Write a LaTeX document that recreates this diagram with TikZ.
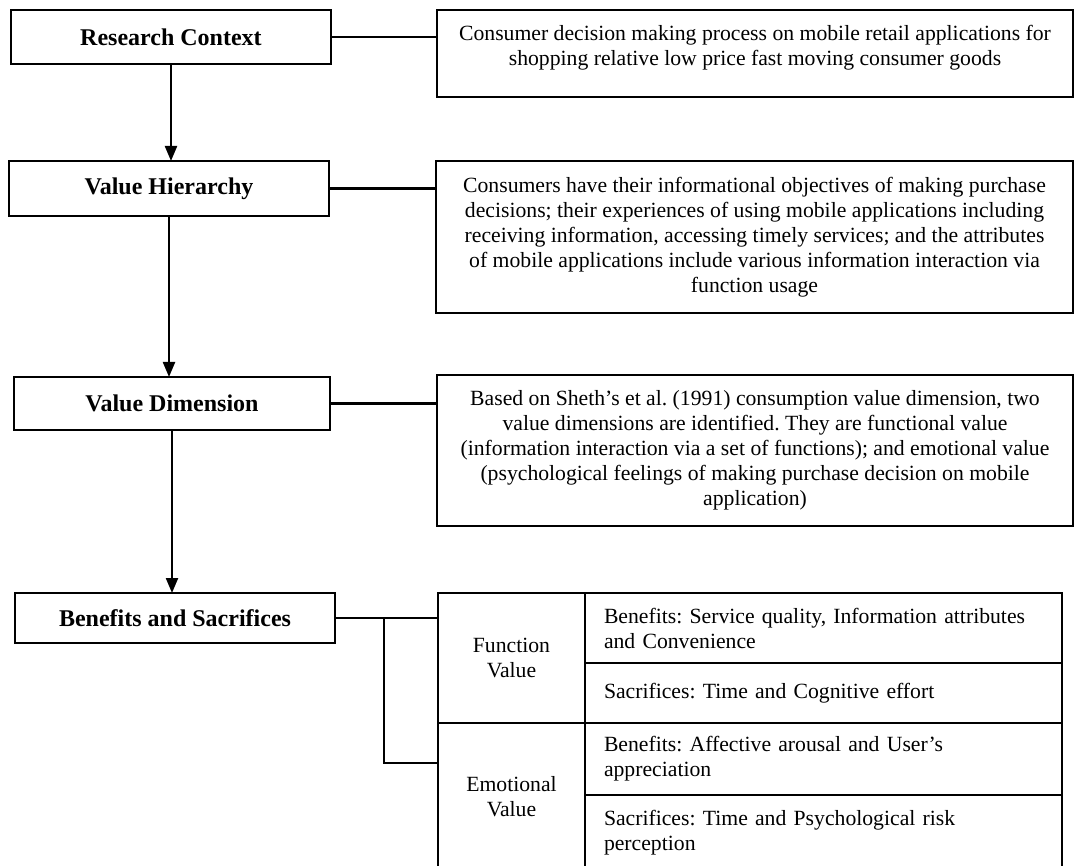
\documentclass[tikz,border=0pt]{standalone}
\usepackage{fontspec}
\setmainfont{Liberation Serif}
\usetikzlibrary{arrows.meta}
\frenchspacing
\begin{document}
\frenchspacing
\begin{tikzpicture}[x=1pt,y=-1pt,
  frame/.style={draw, line width=2.2pt, inner sep=0pt, outer sep=0pt, anchor=north west},
  stage/.style={frame, font=\fontsize{24}{28}\selectfont\bfseries},
  note/.style={frame, font=\fontsize{21.7}{25}\selectfont, align=center},
  plain/.style={font=\fontsize{21.7}{25}\selectfont, align=center, inner sep=0pt},
  cell/.style={frame, font=\fontsize{21.7}{25}\selectfont, align=left,
    text width=439pt, inner xsep=19pt},
  group/.style={frame, font=\fontsize{21.7}{25}\selectfont, align=center},
  link/.style={line width=2.2pt},
  flow/.style={line width=2.2pt, -{Triangle[width=12pt,length=15pt]}}
]
\useasboundingbox (0,0) rectangle (1074,866);

% stages of the framework
\node[stage, minimum width=320pt, minimum height=54pt] (rc) at (11,10) {Research Context};
\node[stage, minimum width=320pt, minimum height=55pt] (vh) at (9,161) {Value Hierarchy};
\node[stage, minimum width=316pt, minimum height=53pt] (vd) at (14,377) {Value Dimension};
\node[stage, minimum width=320pt, minimum height=50pt] (bs) at (15,593) {Benefits and Sacrifices};

% descriptions
\node[frame, minimum width=636pt, minimum height=87pt] (d1) at (437,10) {};
\node[plain] (t1) at ([yshift=-38pt]d1.north)
  {Consumer decision making process on mobile retail applications for\\
   shopping relative low price fast moving consumer goods};
\node[note, minimum width=637pt, minimum height=152pt] (d2) at (436,161)
  {Consumers have their informational objectives of making purchase\\
   decisions; their experiences of using mobile applications including\\
   receiving information, accessing timely services; and the attributes\\
   of mobile applications include various information interaction via\\
   function usage};
\node[note, minimum width=636pt, minimum height=151pt] (d3) at (437,375)
  {Based on Sheth's et al. (1991) consumption value dimension, two\\
   value dimensions are identified. They are functional value\\
   (information interaction via a set of functions); and emotional value\\
   (psychological feelings of making purchase decision on mobile\\
   application)};

% value table
\node[group, minimum width=147pt, minimum height=130pt] (fv) at (438,593) {Function\\Value};
\node[group, minimum width=147pt, minimum height=147pt] (ev) at (438,723) {Emotional\\Value};
\node[cell, minimum height=70pt] (r1) at (585,593)
  {Benefits: Service quality, Information attributes\\and Convenience};
\node[cell, minimum height=60pt] (r2) at (585,663)
  {Sacrifices: Time and Cognitive effort};
\node[cell, minimum height=72pt] (r3) at (585,723)
  {Benefits: Affective arousal and User's\\appreciation};
\node[cell, minimum height=75pt] (r4) at (585,795)
  {Sacrifices: Time and Psychological risk\\perception};

% connectors
\draw[link] (rc.east) -- (rc.east -| d1.west);
\draw[link] (vh.east) -- (vh.east -| d2.west);
\draw[link] (vd.east) -- (vd.east -| d3.west);
\coordinate (j) at (384,618);
\coordinate (k) at (384,763);
\draw[link] (bs.east) -- (bs.east -| fv.west);
\draw[link] (j) -- (k) -- (k -| ev.west);

\draw[flow] (rc.south) -- (rc.south |- vh.north);
\draw[flow] (vh.south) -- (vh.south |- vd.north);
\draw[flow] (vd.south) -- (vd.south |- bs.north);
\end{tikzpicture}
\end{document}
